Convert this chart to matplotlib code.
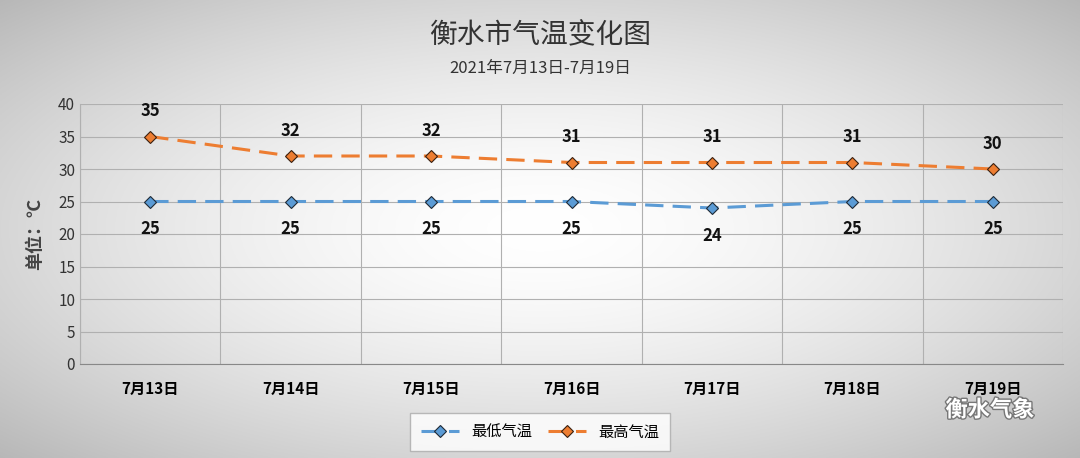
import numpy as np
import matplotlib
matplotlib.use("Agg")
import matplotlib.pyplot as plt
import matplotlib.patheffects as pe

plt.rcParams['font.family'] = ['Noto Sans CJK SC', 'DejaVu Sans']

dates = ["7月13日", "7月14日", "7月15日", "7月16日", "7月17日", "7月18日", "7月19日"]
low = [25, 25, 25, 25, 24, 25, 25]
high = [35, 32, 32, 31, 31, 31, 30]

fig = plt.figure(figsize=(10.8, 4.58), dpi=100)
bg = fig.add_axes([0, 0, 1, 1], zorder=-10)
yy, xx = np.mgrid[-1:1:300j, -1:1:600j]
r = np.sqrt(xx**2 + yy**2) / np.sqrt(2)
g = 1.0 - 0.28 * r**1.6
bg.imshow(np.dstack([g, g, g]), extent=[0, 1, 0, 1], aspect='auto', origin='lower')
bg.axis('off')

ax = fig.add_axes([80/1080, 1-364/458, (1063-80)/1080, (364-104)/458])
ax.set_facecolor('none')
x = np.arange(len(dates))
ax.plot(x, low, color='#5B9BD5', lw=2.2, dashes=(6, 3), marker='D', ms=6,
        mfc='#5B9BD5', mec='#1f2a36', mew=0.8, label='最低气温')
ax.plot(x, high, color='#ED7D31', lw=2.2, dashes=(6, 3), marker='D', ms=6,
        mfc='#ED7D31', mec='#3a2010', mew=0.8, label='最高气温')
for xi, v in zip(x, low):
    ax.annotate(str(v), (xi, v), xytext=(0, -20), textcoords='offset points',
                ha='center', va='center', fontsize=12, fontweight='bold', color='#111')
for xi, v in zip(x, high):
    ax.annotate(str(v), (xi, v), xytext=(0, 18), textcoords='offset points',
                ha='center', va='center', fontsize=12, fontweight='bold', color='#111')

ax.set_xlim(-0.5, 6.5)
ax.set_ylim(0, 40)
ax.set_yticks(range(0, 41, 5))
ax.tick_params(axis='y', labelsize=11, length=0, colors='#333')
ax.set_xticks(x)
ax.set_xticklabels(dates, fontsize=11, fontweight='bold')
ax.tick_params(axis='x', length=0, pad=12)
ax.set_xticks(np.arange(-0.5, 7, 1), minor=True)
ax.tick_params(axis='x', which='minor', length=0)
ax.grid(axis='y', color='#b0b0b0', lw=0.8)
ax.grid(axis='x', which='minor', color='#b0b0b0', lw=0.8)
for s in ['top', 'right']:
    ax.spines[s].set_visible(False)
ax.spines['left'].set_color('#b0b0b0')
ax.spines['bottom'].set_color('#888')
ax.set_ylabel('单位：℃', fontsize=13, fontweight='bold', color='#444', labelpad=10)

fig.text(0.5, 1-35/458, '衡水市气温变化图', ha='center', va='center', fontsize=20, color='#333')
fig.text(0.5, 1-68/458, '2021年7月13日-7月19日', ha='center', va='center', fontsize=12, color='#333')

leg = fig.legend(loc='center', bbox_to_anchor=(540/1080, 1-432/458), ncol=2, frameon=True,
                 fontsize=11, handlelength=2.5, columnspacing=1.0, borderpad=0.4)
leg.get_frame().set_edgecolor('#aaa')
leg.get_frame().set_facecolor('white')
leg.get_frame().set_boxstyle('square')

fig.text(990/1080, 1-410/458, '衡水气象', ha='center', va='center', fontsize=16, color='white',
         fontweight='bold', path_effects=[pe.withStroke(linewidth=2, foreground='#777')])
fig.savefig('out.png', dpi=100)
